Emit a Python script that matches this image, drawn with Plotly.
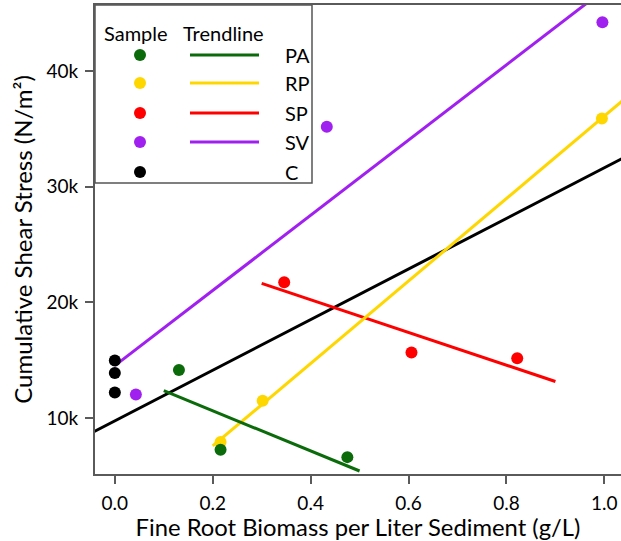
import numpy as np
import plotly.graph_objects as go

# Fine root biomass (g/L) and cumulative shear stress (N/m²) per treatment
PA_x = [0.131, 0.216, 0.475]
PA_y = [14145, 7246, 6609]
RP_x = [0.216, 0.302, 0.995]
RP_y = [7913, 11478, 35900]
SP_x = [0.346, 0.606, 0.822]
SP_y = [21739, 15652, 15160]
SV_x = [0.043, 0.433, 0.996]
SV_y = [12029, 35180, 44213]
C_x = [0.0, 0.0, 0.0]
C_y = [14957, 13884, 12203]

names = ["PA", "RP", "SP", "SV", "C"]
colors = ["#0b6b0b", "#ffd700", "#ff0000", "#a020f0", "#000000"]

# x-extent of each fitted trendline
trend_span = {
    "PA": [0.1, 0.5],
    "RP": [0.2, 1.1],
    "SP": [0.3, 0.9],
    "SV": [0.0, 1.1],
    "ALL": [-0.1, 1.1],
}

x_ticks = [0.0, 0.2, 0.4, 0.6, 0.8, 1.0]
x_ticktext = ["0.0", "0.2", "0.4", "0.6", "0.8", "1.0"]
y_ticks = [10000, 20000, 30000, 40000]
y_ticktext = ["10k", "20k", "30k", "40k"]

series = {
    "PA": (PA_x, PA_y),
    "RP": (RP_x, RP_y),
    "SP": (SP_x, SP_y),
    "SV": (SV_x, SV_y),
    "C": (C_x, C_y),
}
color_of = dict(zip(names, colors))

FONT = "Lato"
W, H = 621, 541
M = dict(l=95, r=0, t=5, b=67)
PW = W - M["l"] - M["r"]
PH = H - M["t"] - M["b"]

fig = go.Figure()


def fit_line(xs, ys, span):
    slope, icpt = np.polyfit(xs, ys, 1)
    xx = np.array(span)
    return xx, slope * xx + icpt


# overall trend across every sample
all_x = sum((series[n][0] for n in names), [])
all_y = sum((series[n][1] for n in names), [])
lx, ly = fit_line(all_x, all_y, trend_span["ALL"])
fig.add_trace(go.Scatter(x=lx, y=ly, mode="lines",
                         line=dict(color="#000000", width=3), showlegend=False))

for n in ["SV", "SP", "RP", "PA"]:
    xs, ys = series[n]
    lx, ly = fit_line(xs, ys, trend_span[n])
    fig.add_trace(go.Scatter(x=lx, y=ly, mode="lines",
                             line=dict(color=color_of[n], width=3), showlegend=False))

for n in ["RP", "SP", "SV", "C", "PA"]:
    xs, ys = series[n]
    fig.add_trace(go.Scatter(x=xs, y=ys, mode="markers",
                             marker=dict(color=color_of[n], size=12),
                             showlegend=False, cliponaxis=False))

# key panel, laid out in pixel units from the plot's top-left corner
box_w, box_h = 217, 178
row_y = [50, 78, 108, 137, 167]
mark_x = 45
line_x0, line_x1 = 95, 164
label_x = 188
head_y = 28

fig.add_shape(type="rect", xref="x2", yref="y2", x0=0, x1=box_w, y0=0, y1=box_h,
              fillcolor="white", line=dict(color="#555555", width=1.5), layer="below")

fig.add_trace(go.Scatter(x=[mark_x] * 5, y=row_y, mode="markers",
                         marker=dict(color=colors, size=12),
                         xaxis="x2", yaxis="y2", showlegend=False, cliponaxis=False))
for i, n in enumerate(names[:4]):
    fig.add_trace(go.Scatter(x=[line_x0, line_x1], y=[row_y[i]] * 2, mode="lines",
                             line=dict(color=colors[i], width=3),
                             xaxis="x2", yaxis="y2", showlegend=False))

ann = [
    dict(x=40.5, y=head_y, text="Sample", xanchor="center"),
    dict(x=128.5, y=head_y, text="Trendline", xanchor="center"),
]
for i, n in enumerate(names):
    ann.append(dict(x=label_x, y=row_y[i], text=n, xanchor="left"))
for a in ann:
    a.update(xref="x2", yref="y2", yanchor="middle", showarrow=False,
             font=dict(family=FONT, size=20, color="black"))

axis_common = dict(
    showgrid=False, zeroline=False, showline=True, linecolor="#5a5a5a", linewidth=2,
    ticks="outside", ticklen=8, tickwidth=1.5, tickcolor="#5a5a5a",
    tickfont=dict(family=FONT, size=19, color="black"),
)

fig.update_layout(
    width=W, height=H, margin=M,
    paper_bgcolor="white", plot_bgcolor="white",
    xaxis=dict(range=[-0.0405, 1.034], tickvals=x_ticks, ticktext=x_ticktext,
               mirror=True, ticklabelstandoff=3,
               title=dict(text="Fine Root Biomass per Liter Sediment (g/L)",
                          font=dict(family=FONT, size=23.8, color="black"), standoff=4),
               **axis_common),
    yaxis=dict(range=[5150, 45710], tickvals=y_ticks, ticktext=y_ticktext,
               ticklabelstandoff=3,
               title=dict(text="Cumulative Shear Stress (N/m²)",
                          font=dict(family=FONT, size=24, color="black"), standoff=7),
               **axis_common),
    xaxis2=dict(overlaying="x", range=[0, PW], visible=False),
    yaxis2=dict(overlaying="y", range=[PH, 0], visible=False),
    annotations=ann,
)

fig.write_html("out.html")
